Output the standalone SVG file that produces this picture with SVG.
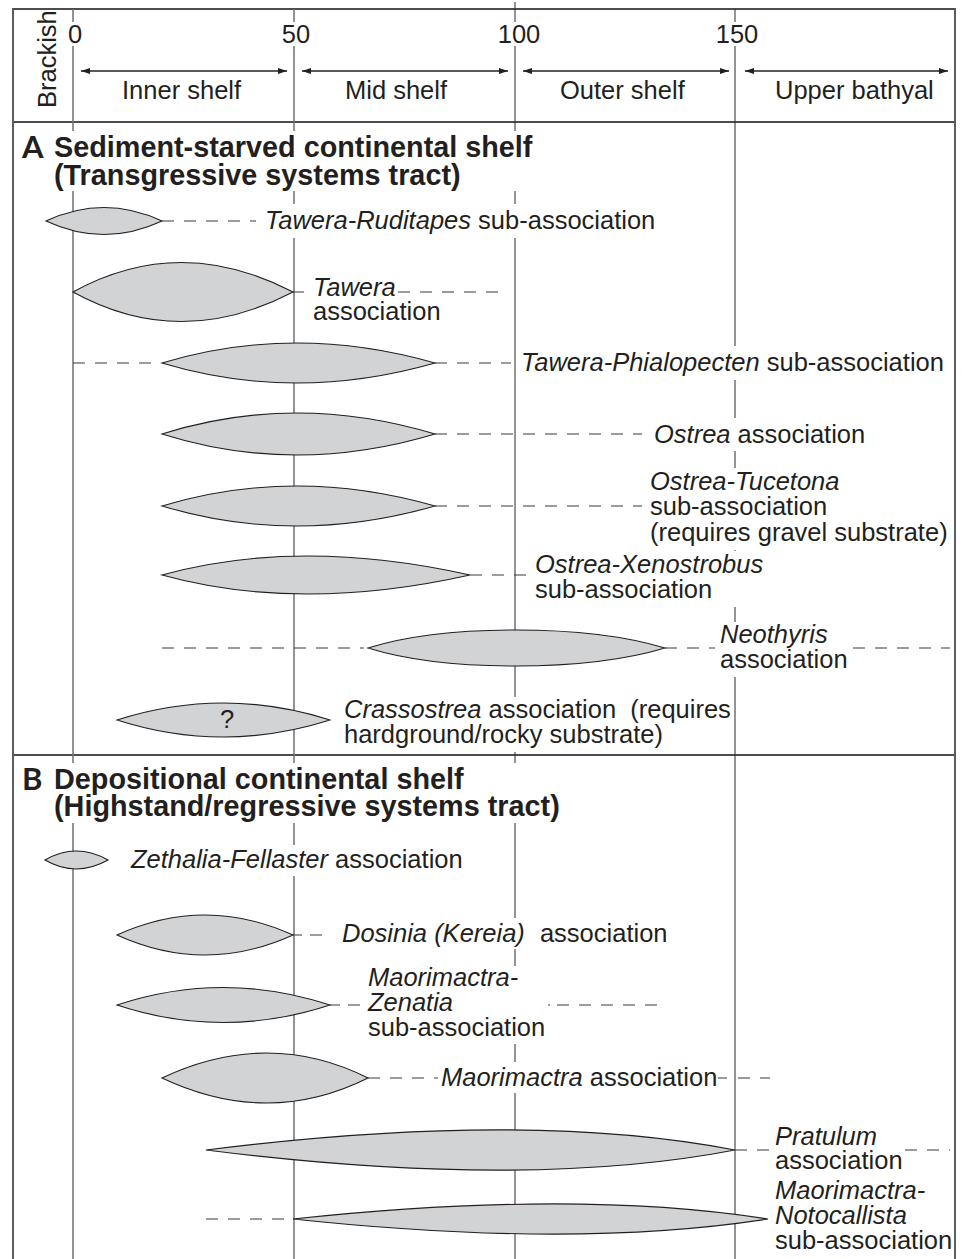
<svg xmlns="http://www.w3.org/2000/svg" width="963" height="1259" viewBox="0 0 963 1259">
<defs>
<style>
.frame{stroke:#4d4d4d;stroke-width:1.8;fill:none}
.g1{stroke:#6f6f6f;stroke-width:1.5}
.g2{stroke:#2a2a2a;stroke-width:1}
.ko{fill:#fff}
.dash{stroke:#3a3a3a;stroke-width:1.2;stroke-dasharray:12 10;fill:none}
.lens{fill:#d1d3d4;stroke:#231f20;stroke-width:1.1}
text{font-family:"Liberation Sans",Arial,sans-serif;font-size:25.5px;fill:#231f20}
.i{font-style:italic}
.h{font-weight:bold;font-size:28.8px}
.L{font-family:Lato,"Liberation Sans",sans-serif;font-size:31px;font-weight:bold}
.arr{stroke:#231f20;stroke-width:1.3;marker-start:url(#a);marker-end:url(#a)}
</style>
<marker id="a" viewBox="0 0 9 6" refX="9" refY="3" markerWidth="9" markerHeight="6" markerUnits="userSpaceOnUse" orient="auto-start-reverse"><path d="M0,0 L9,3 L0,6 Z" fill="#231f20"/></marker>
</defs>

<g id="frame">
<path class="frame" d="M13,1259 V9 H955 V1259 M13,122 H955 M13,755 H955"/>
<line class="g1" x1="73" y1="9" x2="73" y2="1259"/>
<line class="g1" x1="294" y1="9" x2="294" y2="1259"/>
<line class="g2" x1="515" y1="2" x2="515" y2="1259"/>
<line class="g2" x1="735" y1="9" x2="735" y2="1259"/>
</g>

<g id="knockouts">
<rect class="ko" x="66" y="22" width="18" height="24"/>
<rect class="ko" x="281" y="22" width="30" height="24"/>
<rect class="ko" x="500" y="22" width="40" height="24"/>
<rect class="ko" x="716" y="22" width="42" height="24"/>
<rect class="ko" x="20" y="131" width="542" height="60"/>
<rect class="ko" x="263" y="204" width="398" height="34"/>
<rect class="ko" x="519" y="346" width="430" height="34"/>
<rect class="ko" x="652" y="418" width="216" height="33"/>
<rect class="ko" x="648" y="468" width="304" height="82"/>
<rect class="ko" x="533" y="551" width="236" height="56"/>
<rect class="ko" x="718" y="622" width="132" height="55"/>
<rect class="ko" x="342" y="697" width="386" height="55"/>
<rect class="ko" x="20" y="763" width="544" height="60"/>
<rect class="ko" x="129" y="845" width="340" height="31"/>
<rect class="ko" x="340" y="918" width="332" height="31"/>
<rect class="ko" x="366" y="966" width="182" height="78"/>
<rect class="ko" x="439" y="1062" width="290" height="31"/>
</g>

<g id="header">
<text x="75" y="43" text-anchor="middle">0</text>
<text x="296" y="43" text-anchor="middle">50</text>
<text x="519" y="43" text-anchor="middle">100</text>
<text x="737" y="43" text-anchor="middle">150</text>
<line class="arr" x1="81" y1="71" x2="287" y2="71"/>
<line class="arr" x1="302" y1="71" x2="508" y2="71"/>
<line class="arr" x1="523" y1="71" x2="729" y2="71"/>
<line class="arr" x1="745" y1="71" x2="948" y2="71"/>
<text x="122" y="99">Inner shelf</text>
<text x="345" y="99">Mid shelf</text>
<text x="560" y="99">Outer shelf</text>
<text x="775" y="99">Upper bathyal</text>
<text transform="translate(56,108) rotate(-90)">Brackish</text>
</g>

<g id="connectors">
<path class="dash" d="M162,221 H256"/>
<path class="dash" d="M293,292 H304 M398,292 H508"/>
<path class="dash" d="M73,363 H161 M435,363 H511"/>
<path class="dash" d="M435,434 H642"/>
<path class="dash" d="M435,506 H642"/>
<path class="dash" d="M470,575 H530"/>
<path class="dash" d="M162,648 H364 M665,648 H715 M853,648 H950"/>
<path class="dash" d="M293,935 H302 M310,935 H330"/>
<path class="dash" d="M330,1005 H340 M348,1005 H368 M548,1005 H550 M557,1005 H662"/>
<path class="dash" d="M368,1078 H438 M718,1078 H727 M738,1078 H770"/>
<path class="dash" d="M735,1150 H770 M905,1150 H950"/>
<path class="dash" d="M206,1219 H288"/>
</g>

<g id="titleA">
<text class="L" x="22" y="158">A</text>
<text class="h" x="54" y="157">Sediment-starved continental shelf</text>
<text class="h" x="54" y="185">(Transgressive systems tract)</text>
</g>

<g id="tawera-ruditapes">
<path class="lens" d="M46,221 Q104,194 162,221 Q104,248 46,221 Z"/>
<text x="265" y="229"><tspan class="i">Tawera-Ruditapes</tspan> sub-association</text>
</g>
<g id="tawera">
<path class="lens" d="M73,292 Q180,233 293,292 Q180,351 73,292 Z"/>
<text class="i" x="313" y="296">Tawera</text>
<text x="313" y="320">association</text>
</g>
<g id="tawera-phialopecten">
<path class="lens" d="M162,363 Q295,323 435,363 Q295,403 162,363 Z"/>
<text x="521" y="371"><tspan class="i">Tawera-Phialopecten</tspan> sub-association</text>
</g>
<g id="ostrea">
<path class="lens" d="M162,434 Q295,392 435,434 Q295,476 162,434 Z"/>
<text x="654" y="443"><tspan class="i">Ostrea</tspan> association</text>
</g>
<g id="ostrea-tucetona">
<path class="lens" d="M162,506 Q295,466 435,506 Q295,546 162,506 Z"/>
<text class="i" x="650" y="490">Ostrea-Tucetona</text>
<text x="650" y="515">sub-association</text>
<text x="650" y="541">(requires gravel substrate)</text>
</g>
<g id="ostrea-xenostrobus">
<path class="lens" d="M162,575 Q300,537 470,575 Q300,613 162,575 Z"/>
<text class="i" x="535" y="573">Ostrea-Xenostrobus</text>
<text x="535" y="598">sub-association</text>
</g>
<g id="neothyris">
<path class="lens" d="M368,648 C445,624 585,624 665,648 C585,672 445,672 368,648 Z"/>
<text class="i" x="720" y="643">Neothyris</text>
<text x="720" y="668">association</text>
</g>
<g id="crassostrea">
<path class="lens" d="M117,720 Q223,686 330,720 Q223,754 117,720 Z"/>
<text x="227" y="728" text-anchor="middle">?</text>
<text x="344" y="718"><tspan class="i">Crassostrea</tspan> association <tspan dx="7">(requires</tspan></text>
<text x="344" y="743">hardground/rocky substrate)</text>
</g>

<g id="titleB">
<text class="L" x="22" y="790">B</text>
<text class="h" x="54" y="789">Depositional continental shelf</text>
<text class="h" x="54" y="816">(Highstand/regressive systems tract)</text>
</g>

<g id="zethalia-fellaster">
<path class="lens" d="M45,860 Q76,842 108,860 Q76,878 45,860 Z"/>
<text x="131" y="868"><tspan class="i">Zethalia-Fellaster</tspan> association</text>
</g>
<g id="dosinia">
<path class="lens" d="M117,935 Q205,895 293,935 Q205,975 117,935 Z"/>
<text x="342" y="942"><tspan class="i">Dosinia (Kereia)</tspan> <tspan dx="8">association</tspan></text>
</g>
<g id="maorimactra-zenatia">
<path class="lens" d="M117,1005 Q223,970 330,1005 Q223,1040 117,1005 Z"/>
<text class="i" x="368" y="986">Maorimactra-</text>
<text class="i" x="368" y="1011">Zenatia</text>
<text x="368" y="1036">sub-association</text>
</g>
<g id="maorimactra">
<path class="lens" d="M162,1078 Q268,1028 368,1078 Q268,1128 162,1078 Z"/>
<text x="441" y="1086"><tspan class="i">Maorimactra</tspan> association</text>
</g>
<g id="pratulum">
<path class="lens" d="M206,1150 C420,1123 595,1123 735,1150 C595,1177 420,1177 206,1150 Z"/>
<text class="i" x="775" y="1145">Pratulum</text>
<text x="775" y="1169">association</text>
</g>
<g id="maorimactra-notocallista">
<path class="lens" d="M293,1219 C480,1199 640,1199 768,1219 C640,1239 480,1239 293,1219 Z"/>
<text class="i" x="775" y="1199">Maorimactra-</text>
<text class="i" x="775" y="1224">Notocallista</text>
<text x="775" y="1249">sub-association</text>
</g>
</svg>
